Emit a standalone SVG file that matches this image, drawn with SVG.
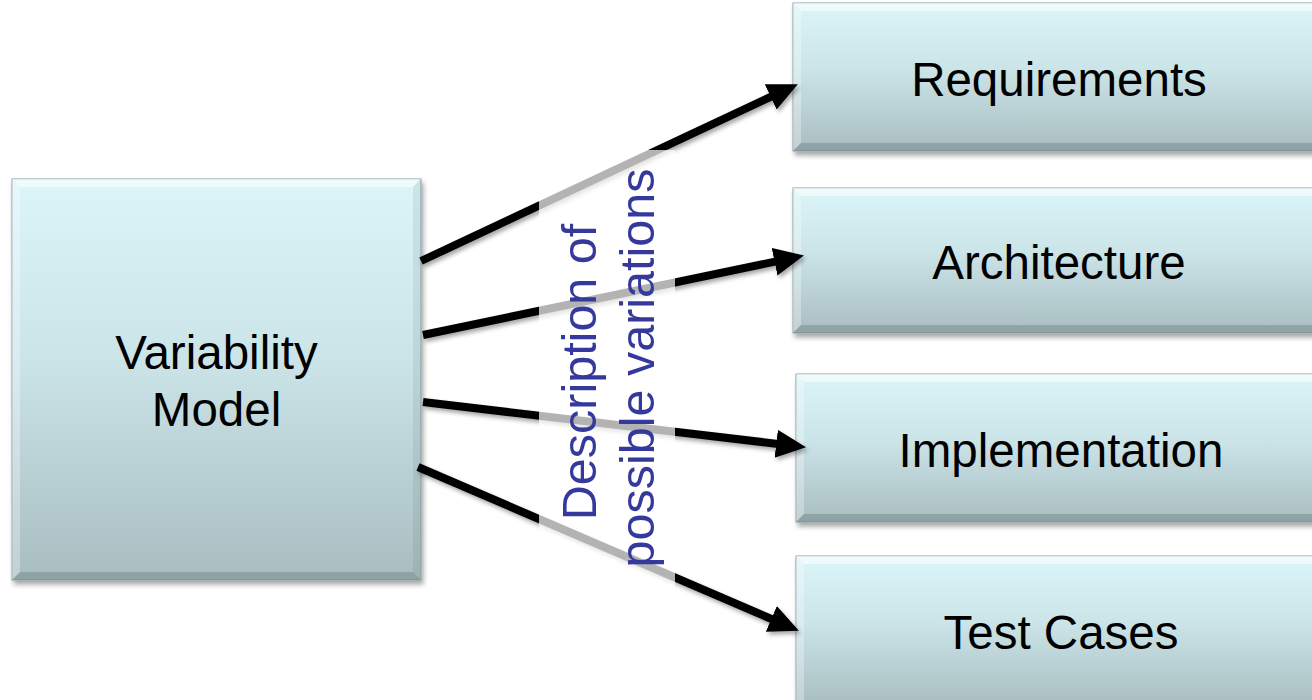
<svg xmlns="http://www.w3.org/2000/svg" width="1312" height="700" viewBox="0 0 1312 700">
  <defs>
    <linearGradient id="boxFill" x1="0" y1="0" x2="0" y2="1">
      <stop offset="0" stop-color="#dcf5f9"/>
      <stop offset="0.45" stop-color="#cbe4e8"/>
      <stop offset="1" stop-color="#a8bdc0"/>
    </linearGradient>
    <filter id="boxShadow" x="-5%" y="-5%" width="115%" height="120%">
      <feDropShadow dx="2" dy="4" stdDeviation="2.5" flood-color="#000" flood-opacity="0.35"/>
    </filter>
    <filter id="lineShadow" x="-5%" y="-20%" width="115%" height="150%">
      <feDropShadow dx="2" dy="3" stdDeviation="2" flood-color="#000" flood-opacity="0.35"/>
    </filter>
    <marker id="arrowHead" markerUnits="userSpaceOnUse" markerWidth="32" markerHeight="30" refX="4" refY="14" orient="auto">
      <path d="M0,0 L30,14 L0,28 Z" fill="#000"/>
    </marker>
  </defs>
  <style>
    .box { fill: url(#boxFill); stroke: #8e9fa2; stroke-width: 1; filter: url(#boxShadow); }
    .bevel-top { fill: #ffffff; opacity: 0.55; }
    .bevel-left { fill: #ffffff; opacity: 0.3; }
    .bevel-bottom { fill: #3f5558; opacity: 0.25; }
    .bevel-right { fill: #3f5558; opacity: 0.1; }
    .label { font-family: "Liberation Sans", Arial, sans-serif; font-size: 47.5px; fill: #000; text-anchor: middle; }
    .conn { stroke: #000; stroke-width: 8; fill: none; marker-end: url(#arrowHead); }
    .note { font-family: "Liberation Sans", Arial, sans-serif; font-size: 48.5px; fill: #35399b; text-anchor: middle; }
  </style>

  <rect width="1312" height="700" fill="#ffffff"/>

  <!-- source node -->
  <g id="variability-model">
    <rect class="box" x="12" y="179" width="409" height="401"/>
    <polygon class="bevel-top" points="12,179 421,179 413,187 20,187"/>
    <polygon class="bevel-left" points="12,179 20,187 20,572 12,580"/>
    <polygon class="bevel-bottom" points="12,580 20,572 413,572 421,580"/>
    <polygon class="bevel-right" points="421,179 421,580 413,572 413,187"/>
    <text class="label" x="216.5" y="369">Variability</text>
    <text class="label" x="216.5" y="426">Model</text>
  </g>

  <!-- target nodes -->
  <g id="requirements">
    <rect class="box" x="793" y="3" width="534" height="148"/>
    <polygon class="bevel-top" points="793,3 1327,3 1319,11 801,11"/>
    <polygon class="bevel-left" points="793,3 801,11 801,143 793,151"/>
    <polygon class="bevel-bottom" points="793,151 801,143 1319,143 1327,151"/>
    <text class="label" x="1059" y="96">Requirements</text>
  </g>

  <g id="architecture">
    <rect class="box" x="793" y="188" width="534" height="145"/>
    <polygon class="bevel-top" points="793,188 1327,188 1319,196 801,196"/>
    <polygon class="bevel-left" points="793,188 801,196 801,325 793,333"/>
    <polygon class="bevel-bottom" points="793,333 801,325 1319,325 1327,333"/>
    <text class="label" x="1059" y="279">Architecture</text>
  </g>

  <g id="implementation">
    <rect class="box" x="796" y="374" width="531" height="148"/>
    <polygon class="bevel-top" points="796,374 1327,374 1319,382 804,382"/>
    <polygon class="bevel-left" points="796,374 804,382 804,514 796,522"/>
    <polygon class="bevel-bottom" points="796,522 804,514 1319,514 1327,522"/>
    <text class="label" x="1061" y="467">Implementation</text>
  </g>

  <g id="test-cases">
    <rect class="box" x="796" y="556" width="531" height="150"/>
    <polygon class="bevel-top" points="796,556 1327,556 1319,564 804,564"/>
    <polygon class="bevel-left" points="796,556 804,564 804,706 796,706"/>
    <text class="label" x="1061" y="649">Test Cases</text>
  </g>

  <!-- connectors from the variability model to each artefact -->
  <g id="connectors" filter="url(#lineShadow)">
    <line class="conn" x1="421" y1="261" x2="774.3" y2="95.2"/>
    <line class="conn" x1="423" y1="335" x2="778.5" y2="260.9"/>
    <line class="conn" x1="423" y1="402" x2="780.2" y2="444.2"/>
    <line class="conn" x1="418" y1="467" x2="775" y2="620.5"/>
  </g>

  <!-- translucent label panel across the connectors -->
  <g id="variations-note">
    <rect x="539" y="150" width="136" height="442" fill="#ffffff" fill-opacity="0.7"/>
    <text class="note" transform="translate(596,372) rotate(-90)">Description of</text>
    <text class="note" transform="translate(654,368) rotate(-90)">possible variations</text>
  </g>
</svg>
